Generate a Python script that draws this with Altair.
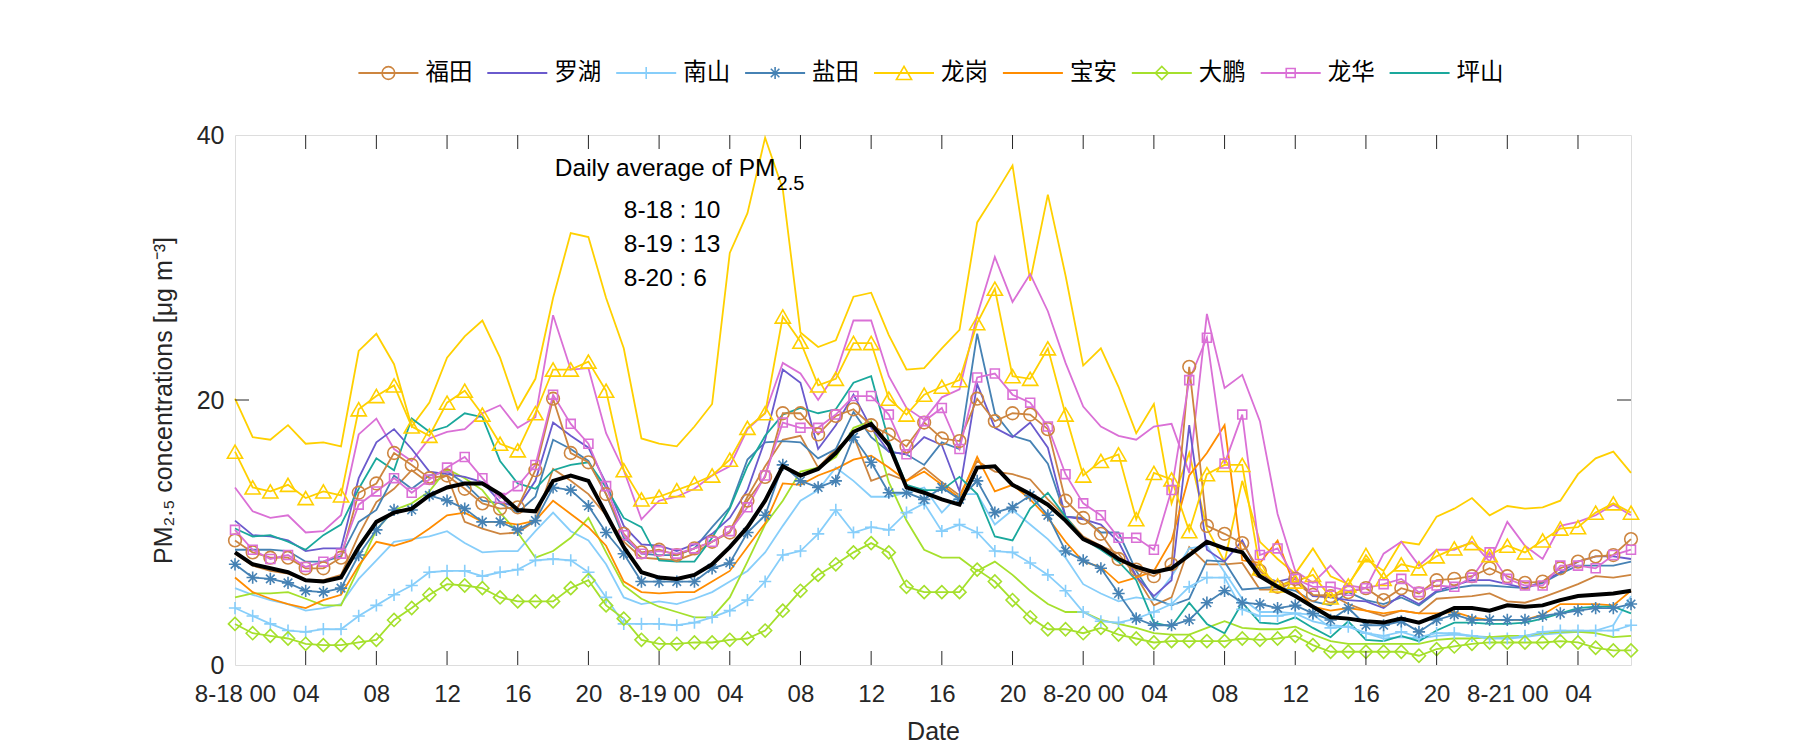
import altair as alt
import pandas as pd

# ---------------- data ----------------
HOURS = list(range(80))
TICK_HOURS = list(range(0, 80, 4))
TICK_LABELS = ["8-18 00", "04", "08", "12", "16", "20",
               "8-19 00", "04", "08", "12", "16", "20",
               "8-20 00", "04", "08", "12", "16", "20",
               "8-21 00", "04"]
Y_TICKS = [0, 20, 40]

DISTRICTS = ["福田", "罗湖", "南山", "盐田", "龙岗", "宝安", "大鹏", "龙华", "坪山"]

FUTIAN_A = [9.4,8.5,8.1,8.1,7.3,7.3,8.1,13.0,13.7,16.0, 15.1,14.1,14.3,13.3,12.2,11.8,11.9,14.7,20.1,16.0,
            15.3,12.9,9.9,8.5,8.7,8.3,8.8,9.3,10.0,12.4, 14.2,19.0,19.0,17.4,18.8,19.3,18.1,17.4,16.5,18.3,
            17.1,16.9,20.1,18.4,19.0,18.9,17.8,12.4,11.1,9.9, 8.0,7.2,6.7,7.6,22.5,10.5,9.9,9.2,7.1,5.9,
            6.5,5.3,5.2,5.5,5.8,4.9,5.8,5.4,6.4,6.5, 6.7,7.3,6.7,6.2,6.3,7.3,7.8,8.2,8.3,9.5]
FUTIAN_B = [8.4,7.5,7.1,6.9,6.4,6.4,6.8,9.8,12.3,13.3, 14.7,13.7,14.3,10.8,10.3,9.9,10.0,10.9,14.8,13.9,
            12.9,11.3,9.3,8.1,8.0,7.9,8.4,9.3,10.1,12.7, 15.0,17.0,17.3,14.9,16.3,17.3,13.9,14.4,13.9,14.9,
            13.8,12.8,15.4,14.6,14.4,14.0,12.5,11.2,9.7,9.0, 8.4,6.7,4.5,5.1,8.9,7.6,7.6,7.7,5.7,5.7,
            6.3,5.2,5.3,4.6,4.1,3.7,4.1,3.9,5.0,5.1, 5.2,5.4,4.8,4.7,5.1,5.6,6.1,6.7,6.6,6.8]
LUOHU = [10.9,9.8,9.7,9.4,8.6,8.8,8.8,14.1,16.8,17.8, 16.3,14.6,14.4,14.2,13.8,12.3,11.9,13.9,18.3,17.3,
         16.4,13.7,10.5,9.1,9.0,8.6,9.1,9.9,11.1,13.2, 17.0,22.3,21.3,16.3,18.1,20.4,17.9,16.1,15.9,17.2,
         16.6,13.1,21.2,17.9,17.2,18.3,16.4,11.2,11.0,10.6, 9.3,6.7,5.2,6.4,18.1,8.7,7.8,9.4,6.7,6.3,
         6.6,5.2,5.1,4.9,4.8,4.3,5.3,4.6,5.6,6.0, 6.4,6.4,6.1,5.8,6.3,7.0,7.8,8.2,8.2,8.0]
NANSHAN_A = [4.3,3.7,3.1,2.6,2.5,2.7,2.7,3.7,4.5,5.3, 6.0,7.0,7.1,7.1,6.7,7.0,7.2,7.9,8.0,7.9,
             7.0,5.1,3.1,3.1,3.1,3.0,3.2,3.6,4.1,4.9, 6.3,8.3,8.6,9.9,11.7,10.0,10.4,10.2,11.5,12.2,
             10.1,10.6,10.0,8.6,8.5,7.7,6.8,5.6,4.0,3.3, 3.2,3.5,4.0,4.6,5.9,6.6,6.6,4.2,3.7,3.7,
             3.9,3.8,2.8,2.9,2.4,2.2,2.5,2.1,2.4,2.4, 2.2,2.0,2.0,2.2,2.5,2.6,2.6,2.6,2.6,3.0]
NANSHAN_B = [5.8,5.3,4.9,4.6,4.1,4.3,4.6,6.5,7.9,9.3, 9.5,9.7,10.1,9.2,8.5,8.6,8.6,10.1,11.5,10.1,
             9.4,7.6,5.1,4.6,4.8,4.6,5.0,5.5,6.3,7.1, 8.5,10.5,12.4,13.2,14.9,13.9,12.7,12.7,13.0,13.4,
             11.5,12.9,12.9,10.6,11.7,10.6,9.5,8.1,6.1,5.4, 4.8,5.1,4.9,6.7,8.8,9.0,7.0,5.0,4.0,4.0,
             3.9,3.3,3.0,2.9,2.4,2.0,2.1,2.0,2.2,2.3, 2.2,2.1,2.0,2.1,2.3,2.4,2.5,2.6,3.0,5.2]
YANTIAN_A = [7.6,6.6,6.5,6.2,5.6,5.5,5.8,8.3,10.2,11.7, 11.7,12.8,12.4,11.8,10.8,10.8,10.2,10.9,13.4,13.2,
             12.0,10.0,8.4,6.3,6.3,6.3,6.3,7.3,7.7,10.0, 11.3,15.1,13.9,13.4,13.9,17.2,15.3,13.0,13.0,12.5,
             13.4,12.5,13.9,11.5,11.9,12.8,11.3,8.6,7.9,7.3, 5.4,3.5,3.0,3.0,3.4,4.7,5.6,4.7,4.6,4.3,
             4.5,3.9,3.4,4.3,3.0,3.0,3.3,2.5,3.4,3.8, 3.4,3.4,3.4,3.4,3.7,3.9,4.1,4.3,4.3,4.6]
YANTIAN_B = [8.7,8.7,8.7,8.6,7.8,7.8,8.2,10.8,11.7,14.3, 13.3,14.3,14.6,13.7,12.4,12.2,11.5,12.7,17.0,16.3,
             15.4,12.9,9.6,8.4,8.3,8.3,8.8,10.4,11.9,15.5, 16.8,16.9,16.8,15.6,16.3,19.1,17.2,16.1,15.9,15.1,
             16.8,16.3,25.0,19.0,17.3,16.9,15.2,11.2,11.1,10.0, 10.0,7.1,5.0,4.5,5.0,7.9,7.8,5.7,5.8,5.9,
             5.6,4.8,4.5,5.5,4.9,4.6,5.1,4.5,5.5,5.8, 6.0,6.0,5.9,5.8,6.2,6.9,7.5,7.5,7.5,7.8]
LONGGANG_A = [16.1,13.4,13.1,13.6,12.6,13.1,12.8,19.3,20.3,21.1, 18.0,17.3,19.8,20.7,18.9,16.7,16.2,19.0,22.3,22.3,
              22.9,20.7,14.7,12.5,12.7,13.2,13.7,14.3,15.5,17.9, 19.0,26.3,24.4,21.1,21.6,24.3,24.3,20.1,18.9,20.4,
              21.0,21.5,25.8,28.4,21.8,21.6,23.9,18.9,14.3,15.4, 15.9,11.0,14.5,14.0,10.1,14.4,15.1,15.1,7.3,6.0,
              6.3,6.8,5.1,6.0,8.3,6.5,7.6,7.3,8.2,8.8, 9.2,8.3,9.0,8.5,9.4,10.3,10.4,11.5,12.2,11.5]
LONGGANG_B = [20.1,17.2,17.0,18.1,16.7,16.8,16.5,23.7,25.0,22.7, 18.0,19.8,23.2,24.8,26.0,23.2,19.3,21.6,27.7,32.6,
              32.3,27.7,23.9,17.1,16.7,16.5,18.0,19.7,31.1,34.1, 39.8,35.9,25.1,24.0,24.5,27.8,28.1,24.9,22.3,22.4,
              23.9,25.3,33.4,35.5,37.7,29.0,35.5,29.4,22.6,23.9, 21.0,17.5,19.7,12.2,16.0,10.3,7.8,13.9,9.3,8.0,
              6.9,8.8,6.7,6.1,8.0,7.1,9.3,9.1,11.2,11.8, 12.6,11.3,12.0,11.8,11.9,12.4,14.4,15.6,16.1,14.5]
BAOAN = [6.6,5.5,5.0,4.6,4.3,4.9,5.3,7.5,9.3,9.0, 9.4,10.3,11.3,11.5,10.8,10.8,10.6,10.9,12.4,11.4,
         10.4,9.0,6.3,5.5,5.4,5.5,5.5,6.3,7.1,8.9, 10.7,13.7,13.6,14.3,14.8,15.5,15.8,14.9,13.9,14.6,
         13.6,12.6,15.7,13.1,13.6,12.5,11.1,9.3,7.8,7.4, 6.2,6.6,7.1,9.4,14.3,16.0,18.1,7.9,7.7,9.4,
         5.8,4.4,4.1,4.3,4.1,3.9,4.1,3.9,3.9,4.0, 3.6,3.4,3.4,3.4,3.8,4.6,4.6,4.6,4.5,5.6]
DAPENG_A = [3.1,2.4,2.2,2.0,1.6,1.5,1.5,1.7,1.9,3.4, 4.3,5.3,6.1,6.0,5.8,5.1,4.8,4.8,4.8,5.8,
            6.4,4.5,3.5,1.9,1.6,1.6,1.7,1.7,1.9,2.0, 2.6,4.1,5.6,6.8,7.6,8.5,9.2,8.5,5.9,5.5,
            5.5,5.5,7.2,6.3,4.9,3.6,2.7,2.7,2.4,2.8, 2.3,2.0,1.7,1.8,1.8,1.8,1.8,2.0,1.9,2.0,
            2.2,1.5,1.0,1.0,1.0,1.0,1.0,0.7,1.2,1.4, 1.6,1.7,1.7,1.7,1.7,1.8,1.7,1.3,1.1,1.1]
DAPENG_B = [5.1,5.4,5.4,5.5,5.0,4.5,4.5,7.3,10.2,11.7, 12.2,13.1,14.8,14.1,13.2,11.5,10.0,8.1,8.6,9.6,
            11.1,8.5,6.0,5.0,4.4,4.0,3.6,3.6,5.1,7.8, 10.6,12.4,14.6,14.9,15.7,17.9,18.4,13.8,10.9,8.7,
            8.1,8.1,7.1,7.8,6.8,5.6,4.6,4.0,4.0,3.4, 3.1,2.8,2.4,2.3,2.3,2.8,3.3,2.8,2.7,2.7,
            2.9,2.3,1.8,1.6,1.6,1.6,1.6,1.6,1.9,2.0, 2.0,2.1,2.2,2.2,2.4,2.5,2.5,2.4,2.1,2.2]
LONGHUA_A = [10.2,8.7,8.0,8.3,7.4,7.8,8.4,12.1,13.1,14.1, 13.0,14.0,14.9,15.7,14.1,12.6,13.5,15.1,20.4,18.2,
             16.7,13.5,9.8,8.4,8.6,8.4,8.8,9.3,10.1,11.9, 14.3,18.3,17.9,17.9,18.9,20.3,20.3,18.9,15.9,18.4,
             19.4,16.3,21.7,22.0,20.4,19.8,18.0,14.4,12.2,11.3, 9.6,9.6,8.7,13.2,21.5,24.7,15.2,18.9,8.3,8.8,
             6.5,5.9,5.9,5.6,5.8,6.1,6.5,5.5,6.0,5.9, 6.6,8.5,6.5,6.0,6.0,7.5,7.5,7.3,8.3,8.7]
LONGHUA_B = [13.4,11.6,11.1,11.3,10.0,10.1,11.3,17.4,18.6,16.3, 15.4,17.1,17.6,17.8,19.0,19.6,17.9,18.7,26.4,22.3,
             22.4,17.5,14.7,11.0,12.4,12.7,13.3,14.3,15.0,17.8, 19.0,22.8,22.0,20.0,22.0,26.0,26.0,21.8,19.4,18.5,
             20.2,20.8,26.4,30.8,27.4,29.5,26.7,22.8,19.5,18.0, 17.3,17.0,18.0,18.2,14.5,26.5,20.9,21.9,18.4,11.4,
             7.1,6.2,7.5,6.0,5.8,8.4,9.3,7.5,8.7,8.7, 9.3,7.8,10.8,9.0,8.0,10.5,10.8,11.3,12.1,11.3]
PINGSHAN = [10.3,9.7,9.8,9.3,8.7,9.8,10.6,13.3,15.6,14.7, 18.6,17.6,18.0,19.0,18.7,15.4,13.7,13.3,14.7,15.1,
            15.3,13.4,11.1,10.4,7.9,7.8,7.8,9.6,11.8,15.0, 17.3,18.9,19.4,19.0,19.3,21.3,21.8,16.9,13.6,13.2,
            13.2,14.2,12.9,9.7,9.4,11.8,13.0,11.2,9.5,8.7, 7.8,6.4,3.2,2.9,4.7,3.1,2.4,4.7,3.2,3.1,
            3.6,2.8,2.1,3.3,1.9,1.8,2.2,1.8,2.6,3.2, 3.2,3.1,3.1,3.2,3.5,3.9,4.3,4.4,4.4,3.9]
CITY_MEAN = [8.5,7.6,7.3,7.0,6.4,6.3,6.6,8.9,10.8,11.5, 11.8,12.8,13.4,13.7,13.7,12.9,11.7,11.6,13.9,14.3,
             13.9,11.4,8.9,7.0,6.6,6.5,6.8,7.6,8.9,10.4, 12.4,15.0,14.3,14.8,16.0,17.6,18.2,16.6,13.4,13.0,
             12.5,12.1,14.9,15.0,13.6,12.9,12.1,10.9,9.5,8.9, 8.0,7.4,7.0,7.3,8.3,9.3,8.8,8.5,6.7,5.9,
             5.2,4.4,3.6,3.5,3.3,3.2,3.5,3.2,3.7,4.3, 4.3,4.1,4.5,4.4,4.5,4.9,5.2,5.3,5.4,5.6]

ANNOT_TITLE = "Daily average of PM"
ANNOT_SUB = "2.5"
ANNOT_DAYS = ["8-18 : 10", "8-19 : 13", "8-20 : 6"]

# (district, station id, has marker, values)
SERIES = [
    ("福田", "福田-b", False, FUTIAN_B), ("南山", "南山-b", False, NANSHAN_B),
    ("盐田", "盐田-b", False, YANTIAN_B), ("龙岗", "龙岗-b", False, LONGGANG_B),
    ("大鹏", "大鹏-b", False, DAPENG_B), ("龙华", "龙华-b", False, LONGHUA_B),
    ("罗湖", "罗湖", False, LUOHU), ("宝安", "宝安", False, BAOAN), ("坪山", "坪山", False, PINGSHAN),
    ("福田", "福田-a", True, FUTIAN_A), ("南山", "南山-a", True, NANSHAN_A),
    ("盐田", "盐田-a", True, YANTIAN_A), ("龙岗", "龙岗-a", True, LONGGANG_A),
    ("大鹏", "大鹏-a", True, DAPENG_A), ("龙华", "龙华-a", True, LONGHUA_A),
]

# ---------------- style ----------------
COLORS = ["#CD853F", "#6A5ACD", "#87CEFA", "#4682B4", "#FFD000",
          "#FF8C00", "#A5E02C", "#DA70D6", "#1AA89C"]
PLUS = "M-1,0L1,0M0,-1L0,1"
STAR = "M-1,0L1,0M0,-1L0,1M-0.7,-0.7L0.7,0.7M-0.7,0.7L0.7,-0.7"
MARKERS = {"福田": ("circle", 160), "南山": (PLUS, 150), "盐田": (STAR, 150),
           "龙岗": ("triangle-up", 230), "大鹏": ("diamond", 170), "龙华": ("square", 80)}

PLOT_W, PLOT_H = 1396, 530
AX = "#262626"
TICK_FONT = "Liberation Sans Narrow, Liberation Sans, Arial, sans-serif"
FONT = "Liberation Sans, Arial, sans-serif"
CJK = "Noto Sans CJK SC"
TICK_LEN_PX = 14
TL_Y = TICK_LEN_PX * 40 / PLOT_H
TL_X = TICK_LEN_PX * 79 / PLOT_W

# ---------------- tables ----------------
rows = []
for district, station, marked, vals in SERIES:
    for h, v in zip(HOURS, vals):
        rows.append({"district": district, "station": station, "marked": marked, "hour": h, "value": v})
df = pd.DataFrame(rows)
mean_df = pd.DataFrame({"hour": HOURS, "value": CITY_MEAN})

label_js = "[" + ",".join("'%s'" % s for s in TICK_LABELS) + "][round(datum.value / 4)]"

x_axis = alt.Axis(values=TICK_HOURS, labelExpr=label_js, ticks=False, domain=False, grid=False,
                  labelFont=TICK_FONT, labelFontSize=24, labelColor=AX, labelPadding=17,
                  labelOverlap=False, labelFlush=False, title="Date", titleFont=FONT,
                  titleFontSize=25, titleFontWeight="normal", titleColor=AX, titlePadding=13)
y_axis = alt.Axis(values=Y_TICKS, ticks=False, domain=False, grid=False,
                  labelFont=FONT, labelFontSize=25, labelColor=AX, labelPadding=11,
                  title="PM₂.₅ concentrations [μg m⁻³]", titleFont=FONT, titleFontSize=25,
                  titleFontWeight="normal", titleColor=AX, titlePadding=20)
xs = alt.Scale(domain=[0, 79], nice=False, zero=False)
ys = alt.Scale(domain=[0, 40], nice=False, zero=True)
X = alt.X("hour:Q", scale=xs, axis=x_axis)
Y = alt.Y("value:Q", scale=ys, axis=y_axis)
color = alt.Color("district:N", scale=alt.Scale(domain=DISTRICTS, range=COLORS), legend=None)

base = alt.Chart(df)
plain_lines = base.transform_filter("!datum.marked").mark_line(strokeWidth=1.8).encode(
    x=X, y=Y, color=color, detail="station:N")
marked_lines = base.transform_filter("datum.marked").mark_line(strokeWidth=1.8).encode(
    x=X, y=Y, color=color, detail="station:N")
point_layers = []
for d, (shape, size) in MARKERS.items():
    point_layers.append(
        base.transform_filter(alt.datum.station == d + "-a").mark_point(
            shape=shape, size=size, filled=False, strokeWidth=1.6, opacity=1).encode(
            x=X, y=Y, color=color))
mean_line = alt.Chart(mean_df).mark_line(color="black", strokeWidth=4).encode(x=X, y=Y)

xt_bottom = pd.DataFrame({"hour": TICK_HOURS[1:], "value": 0.0, "value2": TL_Y})
xt_top = pd.DataFrame({"hour": TICK_HOURS[1:], "value": 40.0, "value2": 40 - TL_Y})
yt_left = pd.DataFrame({"hour": 0.0, "hour2": TL_X, "value": Y_TICKS[1:2]})
yt_right = pd.DataFrame({"hour": 79.0, "hour2": 79 - TL_X, "value": Y_TICKS[1:2]})
tick_layers = [
    alt.Chart(t).mark_rule(color=AX, strokeWidth=1).encode(x=X, y=Y, y2="value2:Q")
    for t in (xt_bottom, xt_top)
] + [
    alt.Chart(t).mark_rule(color=AX, strokeWidth=1).encode(x=X, x2="hour2:Q", y=Y)
    for t in (yt_left, yt_right)
]

annot_df = pd.DataFrame({"hour": [18.1, 22.0, 22.0, 22.0],
                         "value": [37.4, 34.3, 31.7, 29.1],
                         "text": [ANNOT_TITLE] + ANNOT_DAYS})
annot = alt.Chart(annot_df).mark_text(align="left", baseline="middle", font=FONT,
                                      fontSize=24.5, color="black").encode(x=X, y=Y, text="text:N")
sub_df = pd.DataFrame({"hour": [30.65], "value": [36.3], "text": [ANNOT_SUB]})
sub = alt.Chart(sub_df).mark_text(align="left", baseline="middle", font=FONT,
                                  fontSize=20, color="black").encode(x=X, y=Y, text="text:N")

main = alt.layer(plain_lines, marked_lines, *point_layers, mean_line, *tick_layers, annot, sub).properties(
    width=PLOT_W, height=PLOT_H)

# ---------------- legend (drawn as its own small chart) ----------------
leg_df = pd.DataFrame({"district": DISTRICTS, "row": ["r"] * len(DISTRICTS)})
ITEM = 128.9
leg_scale = alt.Scale(type="band", domain=DISTRICTS, range=[123.4, 123.4 + ITEM * len(DISTRICTS)],
                      paddingInner=0, paddingOuter=0)


def LX(bp):
    return alt.X("district:N", sort=DISTRICTS, bandPosition=bp, scale=leg_scale, axis=None)


LY = alt.Y("row:N", axis=None)
lb = alt.Chart(leg_df)
leg_lines = lb.mark_rule(strokeWidth=1.8).encode(
    x=LX(0), x2=alt.X2("district:N", bandPosition=60 / ITEM), y=LY, color=color)
leg_text = lb.mark_text(align="left", baseline="middle", font=CJK, fontSize=23.5, color="black").encode(
    x=LX(67 / ITEM), y=LY, text="district:N")
leg_points = []
for d, (shape, size) in MARKERS.items():
    leg_points.append(lb.transform_filter(alt.datum.district == d).mark_point(
        shape=shape, size=size, filled=False, strokeWidth=1.6, opacity=1).encode(
        x=LX(30 / ITEM), y=LY, color=color))
legend = alt.layer(leg_lines, *leg_points, leg_text).properties(
    width=PLOT_W, height=20, view=alt.ViewBackground(stroke="transparent"))

chart = alt.vconcat(legend, main, spacing=52, bounds="flush").properties(
    padding={"left": 150, "top": 60, "right": 20, "bottom": 10}
).configure_view(stroke=AX, strokeWidth=1).configure(background="white")

chart.save("out.html", embed_options={"renderer": "svg", "actions": False})
